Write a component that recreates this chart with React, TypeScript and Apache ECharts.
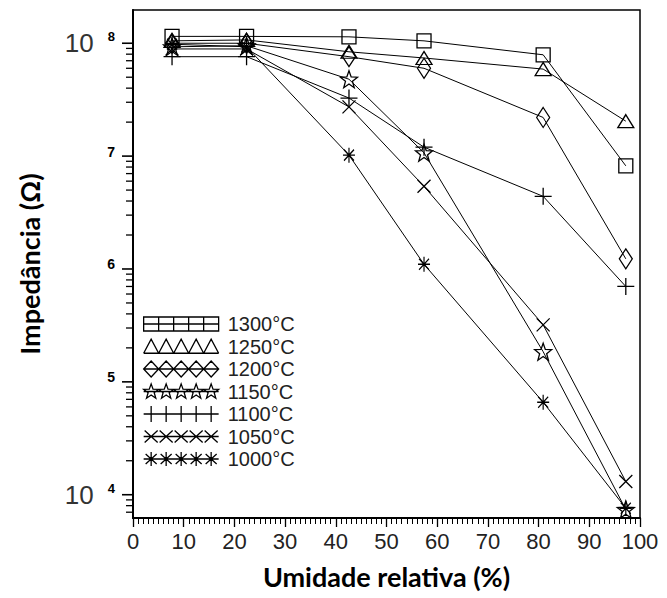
import React, { useEffect, useRef } from 'react';
import * as echarts from 'echarts';

// Relative humidity (%) at which impedance was measured
const humidity = [7.7, 22.4, 42.6, 57.4, 80.9, 97.2];
const legendNames = ['1300°C', '1250°C', '1200°C', '1150°C', '1100°C', '1050°C', '1000°C'];

// Impedance (ohm) for each sintering temperature
const z1300 = [1.15e8, 1.15e8, 1.14e8, 1.05e8, 7.9e7, 8.2e6];
const z1250 = [1.05e8, 1.07e8, 8.4e7, 7.4e7, 5.9e7, 2.04e7];
const z1200 = [1.0e8, 1.0e8, 7.6e7, 6.0e7, 2.2e7, 1.23e6];
const z1150 = [9.3e7, 9.5e7, 4.8e7, 1.07e7, 1.85e5, 7.4e3];
const z1100 = [7.6e7, 7.6e7, 3.27e7, 1.2e7, 4.4e6, 7.0e5];
const z1050 = [8.9e7, 8.9e7, 2.73e7, 5.4e6, 3.2e5, 1.31e4];
const z1000 = [9.8e7, 9.3e7, 1.02e7, 1.1e6, 6.6e4, 7.6e3];

const xTicks = [0, 10, 20, 30, 40, 50, 60, 70, 80, 90, 100];
const yMajorTicks = [1e4, 1e5, 1e6, 1e7, 1e8];
const yMinorTicks = [
  7e3, 8e3, 9e3,
  2e4, 3e4, 4e4, 5e4, 6e4, 7e4, 8e4, 9e4,
  2e5, 3e5, 4e5, 5e5, 6e5, 7e5, 8e5, 9e5,
  2e6, 3e6, 4e6, 5e6, 6e6, 7e6, 8e6, 9e6,
  2e7, 3e7, 4e7, 5e7, 6e7, 7e7, 8e7, 9e7,
];

// ---------- marker shapes ----------
function starPts(cx: number, cy: number, R: number, r: number) {
  let d = '';
  for (let k = 0; k < 10; k++) {
    const a = ((-90 + 36 * k) * Math.PI) / 180;
    const rad = k % 2 ? r : R;
    d += (k === 0 ? 'M' : 'L') + (cx + rad * Math.cos(a)).toFixed(2) + ' ' + (cy + rad * Math.sin(a)).toFixed(2) + ' ';
  }
  return d + 'Z ';
}

const SYM_SQUARE = 'path://M0 0H14V14H0Z';
const SYM_TRI = 'path://M8 0L16 13H0Z';
const SYM_DIAMOND = 'path://M7 0L14 10L7 20L0 10Z';
const SYM_STAR = 'path://' + starPts(8, 8, 8, 3.3);
const SYM_PLUS = 'path://M8 0V16M0 8H16';
const SYM_X = 'path://M0 0L13 13M13 0L0 13';
const SYM_AST = 'path://M6 0V15M0 7.5H12M1 2L11 13M11 2L1 13';

function legendIcon(kind: string) {
  let d = '';
  for (let i = 0; i < 5; i++) {
    const x = 15 * i;
    const c = x + 7.5;
    if (kind === 'square') d += `M${x} 1V15`;
    if (kind === 'tri') d += `M${x} 15L${c} 1L${x + 15} 15`;
    if (kind === 'diamond') d += `M${x} 8L${c} 0L${x + 15} 8L${c} 16Z`;
    if (kind === 'star') d += starPts(c, 8.3, 7.9, 3.2);
    if (kind === 'plus') d += `M${c} 0V16`;
    if (kind === 'x') d += `M${x + 1} 2L${x + 14} 14M${x + 14} 2L${x + 1} 14`;
    if (kind === 'ast') d += `M${c} 1V15M${x + 2} 3L${x + 13} 13M${x + 13} 3L${x + 2} 13`;
  }
  if (kind === 'square') d += 'M0 1H75V15H0ZM0 8H75';
  else if (kind === 'tri') d += 'M0 15H75M0 0.5M75 16';
  else d += 'M0 8H75M0 0M75 16';
  return 'path://' + d;
}

const seriesDefs = [
  { name: legendNames[0], data: z1300, symbol: SYM_SQUARE, size: [14, 14], icon: legendIcon('square') },
  { name: legendNames[1], data: z1250, symbol: SYM_TRI, size: [16, 13], icon: legendIcon('tri') },
  { name: legendNames[2], data: z1200, symbol: SYM_DIAMOND, size: [13, 20], icon: legendIcon('diamond') },
  { name: legendNames[3], data: z1150, symbol: SYM_STAR, size: [17, 17], icon: legendIcon('star') },
  { name: legendNames[4], data: z1100, symbol: SYM_PLUS, size: [17, 17], icon: legendIcon('plus') },
  { name: legendNames[5], data: z1050, symbol: SYM_X, size: [13, 13], icon: legendIcon('x') },
  { name: legendNames[6], data: z1000, symbol: SYM_AST, size: [12, 15], icon: legendIcon('ast') },
];

const LABEL_FONT = "'Liberation Sans', Arial, sans-serif";
const NAME_FONT = "Lato, 'Open Sans', sans-serif";

export default function App() {
  const ref = useRef<HTMLDivElement>(null);

  useEffect(() => {
    if (!ref.current) return;
    const chart = echarts.init(ref.current, undefined, { renderer: 'svg' });

    const lineSeries = seriesDefs.map((s) => ({
      type: 'line',
      name: s.name,
      data: humidity.map((h, i) => [h, s.data[i]]),
      symbol: s.symbol,
      symbolSize: s.size,
      showAllSymbol: true,
      lineStyle: { color: '#000', width: 1 },
      itemStyle: { color: 'rgba(0,0,0,0)', borderColor: '#000', borderWidth: 1.3 },
      emphasis: { disabled: true },
      silent: true,
      z: 3,
    }));

    const tickSeries = {
      type: 'custom',
      name: 'yticks',
      silent: true,
      clip: false,
      z: 6,
      data: [
        ...yMajorTicks.map((v) => [0, v, 1]),
        ...yMinorTicks.map((v) => [0, v, 0]),
      ],
      renderItem: (_p: any, api: any) => {
        const pt = api.coord([api.value(0), api.value(1)]);
        const major = api.value(2) === 1;
        const len = major ? 11 : 7;
        return {
          type: 'line',
          shape: { x1: pt[0] - len, y1: pt[1], x2: pt[0], y2: pt[1] },
          style: { stroke: '#000', lineWidth: major ? 1.6 : 1.3 },
        };
      },
    };

    chart.setOption({
      animation: false,
      backgroundColor: '#fff',
      grid: {
        left: 133,
        right: 27,
        top: 10,
        bottom: 80,
        show: true,
        borderColor: '#000',
        borderWidth: 1.5,
        backgroundColor: 'transparent',
        containLabel: false,
        outerBoundsMode: 'none',
      },
      legend: {
        orient: 'vertical',
        left: 143,
        top: 314,
        padding: 0,
        itemWidth: 75,
        itemHeight: 16,
        itemGap: 2.5,
        selectedMode: false,
        symbolKeepAspect: true,
        textStyle: { fontSize: 20, lineHeight: 20, fontFamily: LABEL_FONT, color: '#222', padding: [0, 0, 0, 4] },
        data: seriesDefs.map((s) => ({
          name: s.name,
          icon: s.icon,
          itemStyle: { color: 'rgba(0,0,0,0)', borderColor: '#000', borderWidth: 1.3 },
        })),
      },
      xAxis: {
        type: 'value',
        min: xTicks[0],
        max: xTicks[xTicks.length - 1],
        interval: 10,
        axisLine: { show: true, onZero: false, lineStyle: { color: '#000', width: 2 } },
        axisTick: { show: true, inside: false, length: 9, lineStyle: { color: '#000', width: 1.3 } },
        minorTick: { show: true, splitNumber: 10, length: 6, lineStyle: { color: '#000', width: 1 } },
        splitLine: { show: false },
        minorSplitLine: { show: false },
        axisLabel: { margin: 12, fontSize: 22, fontFamily: LABEL_FONT, color: '#222' },
        name: 'Umidade relativa (%)',
        nameLocation: 'middle',
        nameGap: 45,
        nameTextStyle: { fontFamily: NAME_FONT, fontWeight: 'bold', fontSize: 27, color: '#000' },
      },
      yAxis: {
        type: 'log',
        logBase: 10,
        min: 6220,
        max: 1.97e8,
        axisLine: { show: true, onZero: false, lineStyle: { color: '#000', width: 2 } },
        axisTick: { show: false },
        minorTick: { show: false },
        splitLine: { show: false },
        axisLabel: {
          interval: 0,
          showMinLabel: false,
          showMaxLabel: false,
          margin: 18,
          fontFamily: LABEL_FONT,
          color: '#222',
          formatter: (v: number) => {
            const e = Math.round(Math.log10(v));
            if (Math.abs(Math.log10(v) - e) > 0.01) return '';
            if (e === 8 || e === 4) return `{b|10}{s|${e}}`;
            return `{m|${e}}`;
          },
          rich: {
            b: { fontSize: 26, fontFamily: LABEL_FONT, color: '#333' },
            s: { fontSize: 13, fontWeight: 'bold', fontFamily: LABEL_FONT, color: '#000', verticalAlign: 'top', padding: [0, 0, 0, 14] },
            m: { fontSize: 14, fontWeight: 'bold', fontFamily: LABEL_FONT, color: '#000', padding: [0, 0, 9, 0] },
          },
        },
        name: 'Impedância (Ω)',
        nameLocation: 'middle',
        nameGap: 90,
        nameTextStyle: { fontFamily: NAME_FONT, fontWeight: 'bold', fontSize: 27, color: '#000' },
      },
      series: [...lineSeries, tickSeries],
    });

    return () => chart.dispose();
  }, []);

  return (
    <div
      ref={ref}
      style={{ position: 'fixed', left: 0, top: 0, width: 667, height: 598, background: '#fff' }}
    />
  );
}
